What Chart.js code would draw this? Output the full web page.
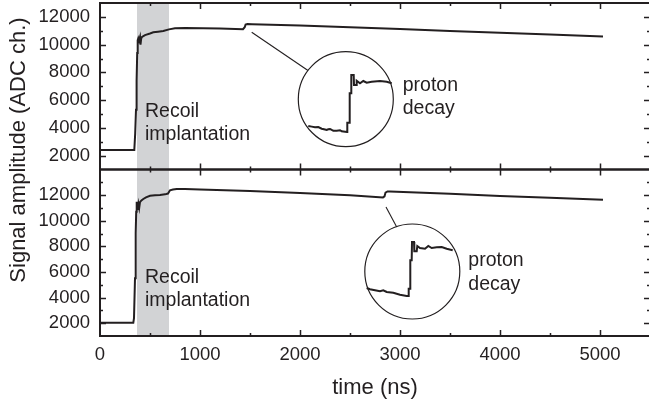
<!DOCTYPE html>
<html>
<head>
<meta charset="utf-8">
<script src="https://cdn.jsdelivr.net/npm/chart.js@4.4.1/dist/chart.umd.min.js"></script>
<style>
  html, body { margin: 0; padding: 0; overflow: hidden; background: #fff; }
  #wrap { width: 650px; height: 407px; }
</style>
</head>
<body>
<div id="wrap"><canvas id="signalChart" width="650" height="407"></canvas></div>
<script>
'use strict';

// axis ticks
var xTickValues = [0, 1000, 2000, 3000, 4000, 5000];
var yTickValues = [2000, 4000, 6000, 8000, 10000, 12000];

// grey band: recoil implantation window (ns)
var implantWindow = [370, 690];

// upper trace
var topTime   = [0, 343, 352, 360, 366, 372, 377, 383, 390, 400, 405, 412, 420, 450, 500, 533, 580, 633, 690, 750, 850, 1030, 1200, 1430, 1447, 1456, 1475, 1520, 2000, 2500, 3000, 3500, 4000, 4500, 5030];
var topSignal = [2400, 2400, 3600, 5300, 7400, 9400, 10330, 10460, 10300, 10550, 10000, 10450, 10550, 10690, 10800, 10890, 10930, 10980, 11100, 11180, 11200, 11180, 11160, 11110, 11250, 11440, 11480, 11470, 11370, 11250, 11120, 10990, 10860, 10730, 10580];

// lower trace
var bottomTime   = [0, 333, 340, 350, 357, 362, 367, 372, 378, 385, 392, 400, 410, 420, 433, 460, 500, 550, 600, 650, 680, 700, 730, 767, 850, 1000, 1500, 2000, 2500, 2830, 2845, 2855, 2875, 2900, 3500, 4000, 4500, 5030];
var bottomSignal = [2030, 2030, 2400, 5500, 9040, 10700, 11480, 11200, 10850, 11300, 11000, 11450, 11550, 11620, 11700, 11830, 11950, 11980, 12010, 12060, 12120, 12380, 12440, 12480, 12480, 12440, 12330, 12170, 11990, 11820, 11900, 12200, 12290, 12280, 12100, 11940, 11790, 11630];

// magnified proton-decay step, upper panel (drawn in panel units)
var topZoomTime   = [2083, 2117, 2150, 2183, 2217, 2250, 2267, 2283, 2300, 2317, 2333, 2367, 2400, 2417, 2470, 2473, 2493, 2497, 2510, 2513, 2537, 2540, 2560, 2567, 2600, 2633, 2667, 2717, 2800, 2867, 2917];
var topZoomSignal = [4135, 4090, 4042, 4060, 3941, 3880, 3847, 3900, 3919, 3850, 3797, 3800, 3830, 3753, 3703, 4373, 4373, 6492, 6492, 7811, 7811, 7090, 7090, 7400, 7213, 7379, 7256, 7328, 7379, 7328, 7213];

// magnified proton-decay step, lower panel
var bottomZoomTime   = [2667, 2700, 2750, 2800, 2833, 2867, 2933, 3000, 3067, 3083, 3087, 3100, 3103, 3117, 3120, 3140, 3143, 3167, 3173, 3200, 3250, 3283, 3317, 3367, 3417, 3467, 3527];
var bottomZoomSignal = [4748, 4646, 4568, 4490, 4568, 4435, 4381, 4224, 4123, 4123, 4693, 4693, 6910, 6910, 8339, 8339, 7613, 7613, 8027, 7871, 7816, 8027, 7871, 7926, 7949, 7816, 7691];

// magnifier circles and leader lines (panel units)
var topLensCenter    = [2458, 6067];
var bottomLensCenter = [3123, 6036];
var topLeaderTime      = [1517, 2080];
var topLeaderSignal    = [10888, 8136];
var bottomLeaderTime   = [2860, 2967];
var bottomLeaderSignal = [11072, 9510];

var recoilText = ['Recoil', 'implantation'];
var decayText  = ['proton', 'decay'];

var FONT = "'Liberation Sans', Arial, Helvetica, sans-serif";
var INK = '#231f20';

function pts(xs, ys) {
  return xs.map(function (x, i) { return { x: x, y: ys[i] }; });
}

function lineSet(xs, ys, axis, width) {
  return {
    type: 'line',
    data: pts(xs, ys),
    yAxisID: axis,
    borderColor: INK,
    borderWidth: width,
    pointRadius: 0,
    tension: 0,
    fill: false
  };
}

function lensSet(center, axis) {
  return {
    type: 'bubble',
    data: [{ x: center[0], y: center[1] }],
    yAxisID: axis,
    radius: 47.5,
    borderColor: INK,
    borderWidth: 1.2,
    backgroundColor: 'rgba(0,0,0,0)'
  };
}

// grey band behind traces
var bandPlugin = {
  id: 'band',
  beforeDatasetsDraw: function (chart) {
    var ctx = chart.ctx, x = chart.scales.x, area = chart.chartArea;
    var x0 = x.getPixelForValue(implantWindow[0]);
    var x1 = x.getPixelForValue(implantWindow[1]);
    ctx.save();
    ctx.fillStyle = '#d2d3d5';
    ctx.fillRect(x0, area.top, x1 - x0, area.bottom - area.top);
    ctx.restore();
  }
};

// frame around each panel with inward ticks, plus text labels
var framePlugin = {
  id: 'frame',
  afterDatasetsDraw: function (chart) {
    var ctx = chart.ctx, x = chart.scales.x;
    ctx.save();
    ctx.strokeStyle = INK;
    ['yTop', 'yBot'].forEach(function (id) {
      var s = chart.scales[id];
      ctx.lineWidth = 2;
      ctx.strokeRect(x.left, s.top, x.right - x.left, s.bottom - s.top);
      ctx.lineWidth = 1.5;
      ctx.beginPath();
      for (var v = 500; v < x.max; v += 500) {
        var px = Math.round(x.getPixelForValue(v)) + 0.5;
        var len = v % 1000 === 0 ? 6 : 3;
        ctx.moveTo(px, s.top); ctx.lineTo(px, s.top + len);
        ctx.moveTo(px, s.bottom); ctx.lineTo(px, s.bottom - len);
      }
      for (var w = s.min + 1000; w < s.max; w += 1000) {
        var py = Math.round(s.getPixelForValue(w)) + 0.5;
        var l2 = w % 2000 === 0 ? 6 : 3;
        ctx.moveTo(x.left, py); ctx.lineTo(x.left + l2, py);
        ctx.moveTo(x.right, py); ctx.lineTo(x.right - l2, py);
      }
      ctx.stroke();
    });
    ctx.restore();
  },
  afterDraw: function (chart) {
    var ctx = chart.ctx, x = chart.scales.x;
    var yT = chart.scales.yTop, yB = chart.scales.yBot;
    ctx.save();
    ctx.fillStyle = INK;
    ctx.font = '19.5px ' + FONT;
    ctx.textAlign = 'left';
    ctx.textBaseline = 'alphabetic';
    function put(txt, xv, scale, yv) {
      ctx.fillText(txt, x.getPixelForValue(xv), scale.getPixelForValue(yv));
    }
    put(recoilText[0], 450, yT, 4800);
    put(recoilText[1], 450, yT, 3160);
    put(recoilText[0], 450, yB, 5110);
    put(recoilText[1], 450, yB, 3340);
    put(decayText[0], 3027, yT, 6650);
    put(decayText[1], 3027, yT, 5030);
    put(decayText[0], 3683, yB, 6490);
    put(decayText[1], 3683, yB, 4590);

    ctx.font = '22px ' + FONT;
    ctx.textAlign = 'center';
    ctx.translate(25, 150);
    ctx.rotate(-Math.PI / 2);
    ctx.fillText('Signal amplitude (ADC ch.)', 0, 0);
    ctx.restore();
  }
};

function noEdgePadding(s) {
  s.paddingTop = 0;
  s.paddingBottom = 0;
  s.paddingLeft = 0;
  s.paddingRight = 0;
}

function yScale(min, max) {
  return {
    type: 'linear',
    position: 'left',
    stack: 'panels',
    stackWeight: 1,
    min: min,
    max: max,
    afterBuildTicks: function (s) {
      s.ticks = yTickValues.map(function (v) { return { value: v }; });
    },
    afterFit: function (s) { s.width = 100; noEdgePadding(s); },
    grid: { display: false, drawTicks: false },
    border: { display: false },
    ticks: {
      color: INK, padding: 10, autoSkip: false, font: { family: FONT, size: 18.5 },
      callback: function (v) { return String(v); }
    }
  };
}

var ctx = document.getElementById('signalChart').getContext('2d');
var signalChart = new Chart(ctx, {
  type: 'line',
  data: {
    datasets: [
      lineSet(topTime, topSignal, 'yTop', 2),
      lineSet(bottomTime, bottomSignal, 'yBot', 2),
      lineSet(topZoomTime, topZoomSignal, 'yTop', 2),
      lineSet(bottomZoomTime, bottomZoomSignal, 'yBot', 2),
      lineSet(topLeaderTime, topLeaderSignal, 'yTop', 1.1),
      lineSet(bottomLeaderTime, bottomLeaderSignal, 'yBot', 1.1),
      lensSet(topLensCenter, 'yTop'),
      lensSet(bottomLensCenter, 'yBot')
    ]
  },
  options: {
    responsive: false,
    animation: false,
    devicePixelRatio: 1,
    events: [],
    layout: { autoPadding: false, padding: { top: 3, left: 0, right: 0, bottom: 0 } },
    plugins: { legend: { display: false }, tooltip: { enabled: false } },
    scales: {
      x: {
        type: 'linear',
        position: 'bottom',
        min: 0,
        max: 5500,
        afterBuildTicks: function (s) {
          s.ticks = xTickValues.map(function (v) { return { value: v }; });
        },
        afterFit: function (s) { s.height = 71; noEdgePadding(s); },
        grid: { display: false, drawTicks: false },
        border: { display: false },
        ticks: {
          color: INK, padding: 8, maxRotation: 0, autoSkip: false, font: { family: FONT, size: 18.5 },
          callback: function (v) { return String(v); }
        },
        title: { display: true, text: 'time (ns)', color: INK, font: { family: FONT, size: 22 }, padding: { top: 0, bottom: 6 } }
      },
      // stacked panels: the scale listed last is placed on top
      yBot: yScale(1000, 14000),
      yTop: yScale(1000, 13000)
    }
  },
  plugins: [bandPlugin, framePlugin]
});
</script>
</body>
</html>
